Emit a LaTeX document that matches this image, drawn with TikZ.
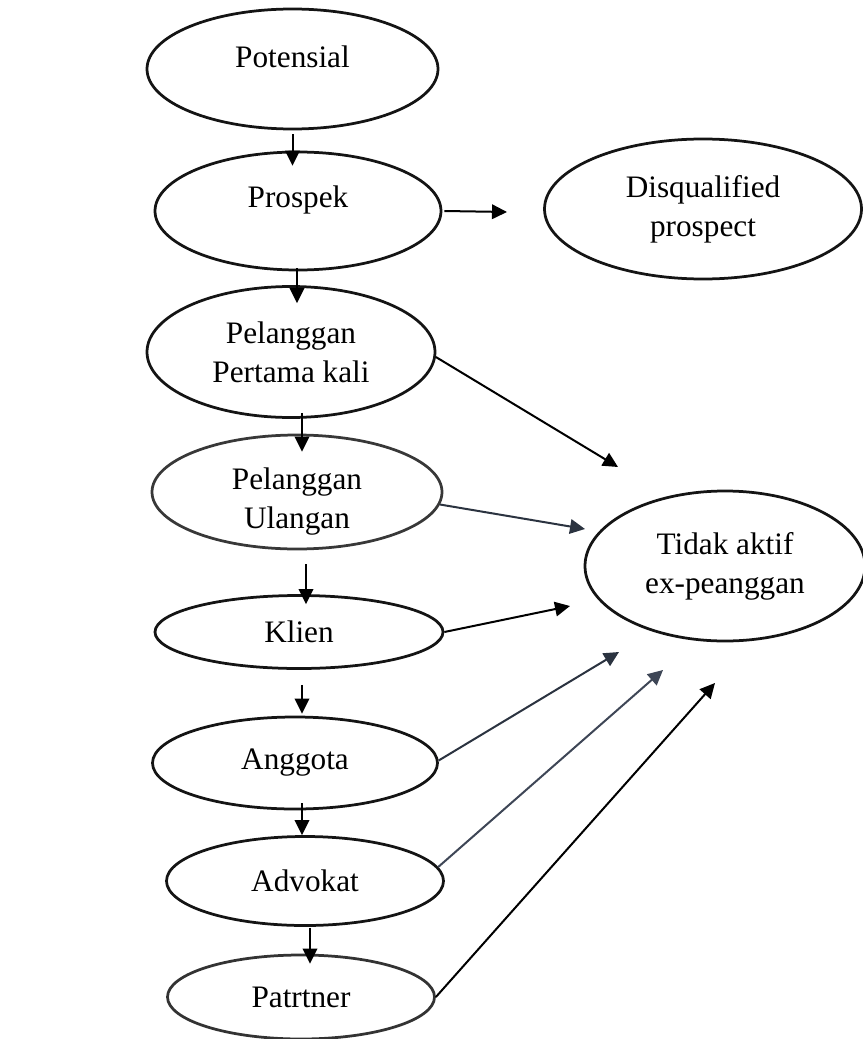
\documentclass[tikz,border=0pt]{standalone}
\usepackage{fontspec}
\setmainfont{Liberation Serif}
\usepackage[svgnames]{xcolor}
\usetikzlibrary{calc, arrows.meta, shapes.geometric}

\definecolor{Slate}{RGB}{43,51,64}
\definecolor{SlateLight}{RGB}{62,70,86}

\begin{document}
\begin{tikzpicture}[x=0.4pt, y=-0.4pt,
    stage/.style={draw=black!92, ellipse, line width=1.1pt, inner sep=0pt, align=center, font=\fontsize{12.5}{15.5}\selectfont},
    arr/.style={line width=0.8pt, -{Triangle[length=6pt, width=5.8pt]}}]
    \useasboundingbox (0,0) rectangle (862,1039);
    % stages down the left side
    \node[stage, minimum width=116.4pt, minimum height=48pt, text depth=9.6pt] (potensial) at (292.5,69) {Potensial};
    \node[stage, minimum width=114.4pt, minimum height=47.2pt, text depth=11.5pt] (prospek) at (298,211) {Prospek};
    \node[stage, minimum width=115.2pt, minimum height=52.4pt] (pertama) at (291,352) {Pelanggan\\Pertama kali};
    \node[stage, draw=black!78, minimum width=116pt, minimum height=45.6pt, text height=29.3pt, text depth=0pt] (ulangan) at (297,492) {Pelanggan\\Ulangan};
    \node[stage, minimum width=115.2pt, minimum height=29.2pt] (klien) at (299,632) {Klien};
    \node[stage, minimum width=114pt, minimum height=36.8pt] (anggota) at (295,763) {Anggota};
    \node[stage, minimum width=110.8pt, minimum height=35.6pt] (advokat) at (305,881) {Advokat};
    \node[stage, draw=black!80, minimum width=106.8pt, minimum height=33.6pt] (patrtner) at (301,997) {Patrtner};
    % exits on the right
    \node[stage, minimum width=126.8pt, minimum height=56pt] (disq) at (703,209) {Disqualified\\prospect};
    \node[stage, minimum width=112pt, minimum height=60pt] (tidak) at (725,566) {Tidak aktif\\ex-peanggan};
    \coordinate (tip-disq) at (507,212);
    \coordinate (tip-pertama) at (618,467);
    \coordinate (tip-ulangan) at (585,529);
    \coordinate (tip-klien) at (570,606);
    \coordinate (tip-anggota) at (619,652);
    \coordinate (tip-advokat) at (663,670);
    \coordinate (tip-patrtner) at (715,683);
    \foreach \a/\b/\dx/\s/\e in {potensial/prospek/0/4/15, prospek/pertama/-1/-3/18, pertama/ulangan/11/-6/18, ulangan/klien/9/14/10, klien/anggota/3/15/-2, anggota/advokat/7/-7/0, advokat/patrtner/5/1/10}
        \draw[arr] ($(\a.south)+(\dx,\s)$) -- ($(\a.south |- \b.north)+(\dx,\e)$);
    \draw[arr] ($(prospek.east)+(2,0)$) -- (tip-disq);
    \foreach \p/\q/\c in {pertama.-2/tip-pertama/black, ulangan.-5/tip-ulangan/Slate, klien.east/tip-klien/black, anggota.1/tip-anggota/Slate, advokat.6/tip-advokat/SlateLight, patrtner.east/tip-patrtner/black}
        \draw[arr, \c] (\p) -- (\q);
\end{tikzpicture}
\end{document}
